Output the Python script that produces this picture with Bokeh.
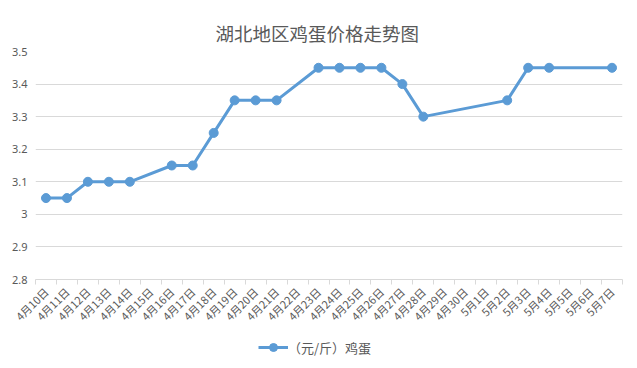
import numpy as np
from bokeh.plotting import figure
from bokeh.layouts import column
from bokeh.models import FixedTicker, ColumnDataSource, Legend, LegendItem, Range1d
from bokeh.embed import file_html
from bokeh.resources import INLINE

title_text = "湖北地区鸡蛋价格走势图"
series_name = "（元/斤）鸡蛋"
dates = ["4月10日", "4月11日", "4月12日", "4月13日", "4月14日", "4月15日", "4月16日",
         "4月17日", "4月18日", "4月19日", "4月20日", "4月21日", "4月22日", "4月23日",
         "4月24日", "4月25日", "4月26日", "4月27日", "4月28日", "4月29日", "4月30日",
         "5月1日", "5月2日", "5月3日", "5月4日", "5月5日", "5月6日", "5月7日"]
prices = [3.05, 3.05, 3.10, 3.10, 3.10, None, 3.15,
          3.15, 3.25, 3.35, 3.35, 3.35, None, 3.45,
          3.45, 3.45, 3.45, 3.40, 3.30, None, None,
          None, 3.35, 3.45, 3.45, None, None, 3.45]
y_ticks = [2.8, 2.9, 3.0, 3.1, 3.2, 3.3, 3.4, 3.5]
y_tick_labels = ["2.8", "2.9", "3", "3.1", "3.2", "3.3", "3.4", "3.5"]

idx = [i for i, v in enumerate(prices) if v is not None]
src = ColumnDataSource(dict(x=idx, y=[prices[i] for i in idx]))

BLUE = "#5b9bd5"
GRAY = "#595959"
GRID = "#d9d9d9"

p = figure(width=633, height=334, output_backend="svg", toolbar_location=None,
           x_range=Range1d(-0.5, len(dates) - 0.5), y_range=Range1d(y_ticks[0], y_ticks[-1]),
           min_border_left=35, min_border_right=11, min_border_top=51, min_border_bottom=55)
p.outline_line_color = None

p.title.text = title_text
p.title.align = "left"
p.title.text_font = "Noto Sans CJK SC"
p.title.text_font_size = "18.5px"
p.title.text_font_style = "normal"
p.title.text_color = GRAY
p.title.standoff = 12
p.title.offset = 180

ln = p.line("x", "y", source=src, line_color=BLUE, line_width=3)
sc = p.scatter("x", "y", source=src, size=9, fill_color=BLUE, line_color=BLUE)

p.xgrid.visible = False
p.ygrid.grid_line_color = GRID
p.ygrid.ticker = FixedTicker(ticks=y_ticks)

xa = p.xaxis[0]
xa.ticker = FixedTicker(ticks=list(range(len(dates))),
                        minor_ticks=[i - 0.5 for i in range(len(dates) + 1)])
xa.major_label_overrides = {i: d for i, d in enumerate(dates)}
xa.major_label_orientation = np.pi / 4
xa.major_tick_line_color = None
xa.minor_tick_line_color = GRID
xa.minor_tick_in = 0
xa.minor_tick_out = 5
xa.axis_line_color = GRID
xa.major_label_text_font = "Noto Sans CJK SC"
xa.major_label_text_font_size = "11px"
xa.major_label_text_color = GRAY
xa.major_label_standoff = 4

ya = p.yaxis[0]
ya.ticker = FixedTicker(ticks=y_ticks)
ya.major_label_overrides = dict(zip(y_ticks, y_tick_labels))
ya.axis_line_color = None
ya.major_tick_line_color = None
ya.major_tick_out = 0
ya.major_tick_in = 0
ya.minor_tick_line_color = None
ya.major_label_text_font = "Noto Sans"
ya.major_label_text_font_size = "11px"
ya.major_label_text_color = GRAY
ya.major_label_standoff = 8

# legend strip below the chart (separate small figure holding the key)
lg = figure(width=633, height=30, output_backend="svg", toolbar_location=None,
            x_range=Range1d(-100, -99), y_range=Range1d(-100, -99),
            min_border=0)
lg.axis.visible = False
lg.grid.visible = False
lg.outline_line_color = None
lln = lg.line("x", "y", source=src, line_color=BLUE, line_width=3)
lsc = lg.scatter("x", "y", source=src, size=9, fill_color=BLUE, line_color=BLUE)
legend = Legend(items=[LegendItem(label=series_name, renderers=[lln, lsc])],
                orientation="horizontal", location=(223, 7),
                border_line_color=None, background_fill_alpha=0,
                glyph_width=30, label_standoff=0, padding=2, margin=0,
                label_text_font="Noto Sans CJK SC",
                label_text_font_size="13px", label_text_color=GRAY)
lg.add_layout(legend)

layout = column(p, lg, spacing=0)
open("out.html", "w").write(file_html(layout, INLINE))
